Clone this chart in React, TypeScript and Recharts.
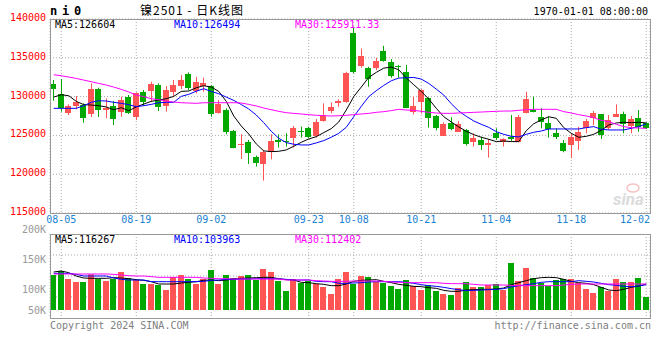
import React from 'react';
import { ComposedChart, Bar, Line, XAxis, YAxis, CartesianGrid } from 'recharts';

// 80 trading days, ni0 daily
const DATES = [
  '08-02', '08-05', '08-06', '08-07', '08-08', '08-09', '08-12', '08-13', '08-14', '08-15', '08-16',
  '08-19', '08-20', '08-21', '08-22', '08-23', '08-26', '08-27', '08-28', '08-29', '08-30',
  '09-02', '09-03', '09-04', '09-05', '09-06', '09-09', '09-10', '09-11', '09-12', '09-13',
  '09-18', '09-19', '09-20', '09-23', '09-24', '09-25', '09-26', '09-27', '09-30',
  '10-08', '10-09', '10-10', '10-11', '10-14', '10-15', '10-16', '10-17', '10-18',
  '10-21', '10-22', '10-23', '10-24', '10-25', '10-28', '10-29', '10-30', '10-31', '11-01',
  '11-04', '11-05', '11-06', '11-07', '11-08', '11-11', '11-12', '11-13', '11-14', '11-15',
  '11-18', '11-19', '11-20', '11-21', '11-22', '11-25', '11-26', '11-27', '11-28', '11-29',
  '12-02',
];

const OPEN = [
  131620, 130290, 127930, 128790, 128910, 127760, 130970, 128310, 128830, 128060,
  129990, 127410, 130540, 130720, 131490, 128830, 130540, 131360, 132860, 130720,
  131400, 131360, 127930, 128270, 125570, 123770, 124200, 122230, 121330, 122910,
  124410, 124280, 124630, 125610, 125910, 124970, 126860, 128140, 129130, 129260,
  138260, 133970, 133720, 133720, 135860, 134490, 133970, 133200, 128060, 129260,
  129770, 127500, 124970, 126640, 125480, 125700, 124200, 124410, 123730, 125360,
  124110, 124840, 124200, 127930, 128270, 127410, 126640, 125310, 123980, 123770,
  124280, 125910, 127290, 127760, 125910, 127410, 127760, 126210, 127200, 126560,
];
const HIGH = [
  132130, 132260, 129000, 130070, 129130, 131700, 131140, 129770, 129430, 129990,
  130200, 130540, 130840, 131920, 131700, 131360, 132130, 132770, 133120, 132560,
  132430, 131490, 129560, 128490, 125700, 125140, 124410, 122400, 123130, 125140,
  125140, 125270, 126210, 126130, 126130, 127110, 129130, 129260, 129640, 133200,
  138990, 136200, 133840, 135000, 136545, 134830, 134060, 134060, 129990, 130970,
  129900, 127630, 126690, 127330, 126860, 125830, 125270, 124840, 124540, 125910,
  124630, 127630, 127630, 130630, 129990, 128490, 127410, 125910, 124410, 125270,
  126130, 127110, 128140, 127760, 127630, 129000, 128060, 127500, 128270, 126690,
];
const LOW = [
  129470, 128060, 127630, 128360, 126640, 127370, 127370, 127200, 126340, 127410,
  127760, 126990, 128830, 129340, 128140, 128060, 129990, 130970, 130840, 130420,
  130630, 127410, 127800, 125140, 123340, 121970, 121330, 120980, 119180, 121930,
  123430, 123560, 123430, 124710, 124630, 124710, 126770, 127840, 128700, 129210,
  132990, 133720, 131270, 133420, 134490, 132430, 132430, 128490, 127710, 127800,
  126000, 125660, 124970, 125660, 125480, 123680, 123560, 123130, 122140, 124410,
  123560, 124280, 124110, 127840, 127970, 125910, 124710, 124540, 122830, 122060,
  123130, 125270, 126340, 124540, 125700, 127410, 125270, 125270, 125480, 125830,
];
const CLOSE = [
  131020, 128570, 128790, 129260, 127200, 130970, 128270, 128490, 127110, 129560,
  127930, 130420, 129260, 131620, 128700, 130840, 131490, 132130, 131140, 131920,
  131700, 127760, 129000, 125400, 123430, 123940, 122780, 121500, 122910, 124280,
  124110, 124160, 125910, 125400, 124840, 126690, 127630, 128660, 129470, 132990,
  133120, 135260, 132220, 134570, 134570, 132640, 133760, 128570, 128790, 130840,
  127290, 126000, 126470, 125830, 126470, 123860, 124710, 123770, 124070, 124710,
  124540, 124500, 127410, 129690, 128060, 126690, 125830, 124840, 123040, 124840,
  125480, 126860, 127930, 125060, 126990, 127710, 126470, 127110, 126130, 125910,
];
const VOLUME = [
  125000, 131670, 118330, 113330, 113330, 126110, 118330, 115000, 118330, 130000,
  120000, 116670, 110000, 110000, 108330, 100000, 121660, 125000, 118330, 110000,
  118330, 133330, 110000, 125000, 120000, 123330, 125000, 116670, 135000, 130000,
  115000, 98330, 118330, 111660, 115000, 110000, 105000, 93330, 118330, 130000,
  110000, 123330, 121660, 113330, 111660, 106660, 101660, 116670, 106660, 100000,
  108330, 98330, 93330, 91660, 103330, 113330, 105000, 105000, 108330, 110000,
  100000, 145000, 115000, 136670, 120000, 111660, 106660, 116670, 118330, 118330,
  111660, 101660, 95000, 105000, 98330, 118330, 113330, 113330, 120000, 88330,
];

const MA5 = [
  129940, 130240, 130110, 129390, 128960, 128910, 128830, 128660, 128310, 128570,
  128190, 128660, 129040, 129390, 129560, 129730, 130030, 130670, 130720, 131140,
  131400, 131230, 130670, 129390, 127500, 126210, 125180, 123900, 123000, 122910,
  122950, 123130, 123600, 124110, 124540, 124840, 125360, 125870, 126730, 128270,
  130000, 131230, 132470, 133120, 133670, 133800, 133460, 132390, 131530, 130670,
  129690, 128490, 127410, 126730, 126090, 125530, 125100, 124760, 124500, 124200,
  124280, 124200, 124200, 125600, 126500, 127000, 127400, 127200, 126000, 125270,
  124760, 124880, 125140, 125660, 126340, 126600, 126690, 126640, 126690, 126604,
];
const MA10 = [
  128490, 128490, 128490, 128490, 128830, 129260, 129470, 129430, 129260, 129130,
  128960, 128700, 128830, 129000, 129210, 129260, 129260, 130030, 130290, 130700,
  131015, 130670, 130370, 129940, 129510, 128980, 128400, 127630, 126640, 125530,
  124630, 124070, 123860, 123770, 123770, 124030, 124330, 124760, 125270, 126040,
  127410, 128740, 129990, 130760, 131440, 132040, 132390, 132430, 132470, 132260,
  131700, 130970, 130200, 129090, 128140, 127460, 126860, 126430, 126040, 125480,
  125140, 124880, 124800, 125140, 125400, 125570, 125830, 125830, 125830, 125830,
  125830, 126000, 126130, 125790, 125700, 125700, 125700, 125910, 126130, 126494,
];
const MA30 = [
  132820, 132690, 132520, 132340, 132130, 131920, 131700, 131490, 131230, 130930,
  130590, 130200, 129990, 129730, 129600, 129430, 129300, 129210, 129170, 129130,
  129210, 129210, 129210, 129210, 129210, 129170, 129000, 128790, 128530, 128310,
  128100, 127930, 127840, 127760, 127670, 127590, 127540, 127500, 127540, 127590,
  127670, 127760, 127840, 127970, 128060, 128190, 128360, 128270, 128230, 128100,
  127970, 127890, 127840, 127840, 127890, 127930, 127970, 128010, 128060, 128100,
  128140, 128140, 128230, 128310, 128360, 128360, 128360, 128360, 128060, 127890,
  127670, 127500, 127290, 126940, 126770, 126430, 126130, 126000, 125950, 125911,
];

const VMA5 = [
  129990, 131660, 128880, 123330, 120000, 119440, 119440, 119440, 120550, 120000,
  118880, 117220, 116100, 113880, 110000, 110000, 110000, 111660, 112770, 113880,
  116100, 116660, 115550, 116660, 118330, 119440, 120000, 120550, 121110, 121110,
  118880, 117220, 116660, 112770, 112220, 110550, 109440, 107220, 107220, 110000,
  114440, 116100, 116660, 117220, 114440, 112220, 109440, 107770, 106110, 105550,
  103880, 102770, 99440, 97770, 97770, 100000, 100550, 101110, 101110, 101660,
  103330, 108880, 112220, 115550, 118880, 120550, 121110, 120550, 117770, 114440,
  112220, 111110, 108880, 104440, 100000, 98880, 101110, 104440, 106660, 110000,
];
const VMA10 = [
  127770, 127770, 127770, 126110, 123330, 123330, 123330, 123330, 120000, 117770,
  116660, 116660, 116660, 113880, 113880, 113880, 113880, 113880, 113880, 113880,
  114440, 116100, 116660, 117770, 117770, 118330, 118330, 118880, 118880, 118880,
  118330, 117770, 116660, 116660, 116660, 114440, 113880, 113880, 111110, 111110,
  111660, 112220, 113330, 113880, 113880, 113880, 113880, 112770, 111110, 108880,
  107220, 106110, 104440, 102220, 100550, 98880, 99440, 100000, 100550, 101110,
  102220, 104990, 107220, 108880, 110550, 112770, 113880, 113880, 113880, 113880,
  115550, 114440, 113330, 111110, 108880, 107770, 106110, 105550, 106660, 108880,
];
const VMA30 = [
  126660, 126660, 126660, 126660, 126660, 126660, 126660, 126660, 126110, 124990,
  123880, 123330, 123330, 122220, 121110, 121110, 121110, 121110, 121110, 121110,
  120000, 119440, 118880, 118880, 118330, 118330, 118330, 118330, 118330, 118330,
  118330, 116660, 116660, 116660, 116660, 115550, 114990, 114440, 114440, 114440,
  114990, 114990, 114990, 114990, 114440, 113330, 112770, 112220, 112220, 112220,
  112220, 112220, 111110, 110550, 110550, 110550, 109440, 108330, 108330, 108330,
  108330, 107770, 107220, 107220, 107220, 107220, 107220, 107220, 108330, 109440,
  110000, 110000, 110000, 110000, 110000, 110000, 110000, 110000, 110000, 110000,
];

const LABEL_DATES = ['08-05', '08-19', '09-02', '09-23', '10-08', '10-21', '11-04', '11-18', '12-02'];
const PRICE_TICKS = [140000, 135000, 130000, 125000, 120000, 115000];
const VOL_TICKS = [200000, 150000, 100000, 50000];
const VOL_DOMAIN = [53333, 193333];
const VOL_BASE = 66667;

const UP = '#ff5454';
const DOWN = '#00a800';
const GRID = '#aaaaaa';
const FRAME = '#999999';
const MONO = '"DejaVu Sans Mono", "Liberation Mono", monospace';

const W = 660;
const AXIS_W = 50;
const PM = { top: 19, right: 10, bottom: 0, left: 0 };
const P_H = 230;
const X_AXIS_H = 17;
const V_TOP = 214;
const VM = { top: 20, right: 10, bottom: 6, left: 0 };
const V_H = 110;
const PLOT_RIGHT = W - PM.right;
const V_PLOT_H = V_H - VM.top - VM.bottom;

const rows = DATES.map((date, i) => ({
  date,
  open: OPEN[i],
  high: HIGH[i],
  low: LOW[i],
  close: CLOSE[i],
  vol: VOLUME[i],
  ma5: MA5[i],
  ma10: MA10[i],
  ma30: MA30[i],
  vma5: VMA5[i],
  vma10: VMA10[i],
  vma30: VMA30[i],
}));

const colorOf = (r: any) => (r.close >= r.open ? UP : DOWN);

function Candle(props: any) {
  const { x, y, width, height, payload } = props;
  if (x == null || y == null) return null;
  const { open, close, high, low } = payload;
  const span = high - low || 1;
  const yOf = (v: number) => y + ((high - v) / span) * height;
  const c = Math.floor(x + width / 2);
  const top = Math.round(yOf(Math.max(open, close)));
  const bot = Math.round(yOf(Math.min(open, close)));
  const color = colorOf(payload);
  return (
    <g>
      <line x1={c + 0.5} x2={c + 0.5} y1={y} y2={y + height} stroke={color} strokeWidth={1} />
      <rect x={c - 3} y={top} width={6} height={Math.max(1, bot - top)} fill={color} />
    </g>
  );
}

function VolBar(props: any) {
  const { x, y, width, height, payload } = props;
  if (x == null || y == null) return null;
  const c = Math.floor(x + width / 2);
  return <rect x={c - 3} y={y} width={6} height={height} fill={colorOf(payload)} />;
}

function DateTick(props: any) {
  const { x, y, payload } = props;
  const nearEnd = x + 15 > PLOT_RIGHT;
  return (
    <text
      x={nearEnd ? PLOT_RIGHT : x}
      y={y}
      dy={10}
      textAnchor={nearEnd ? 'end' : 'middle'}
      fill="#1a82d2"
      fontSize={10}
      fontFamily={MONO}
    >
      {payload.value}
    </text>
  );
}

function PriceTick(props: any) {
  const { x, y, payload } = props;
  return (
    <text x={x} y={y} dy={2} textAnchor="end" fill="#ff0000" fontSize={10} fontFamily={MONO}>
      {payload.value}
    </text>
  );
}

function VolTick(props: any) {
  const { x, y, payload } = props;
  const bottom = VM.top + V_PLOT_H - 8;
  return (
    <text x={x} y={Math.min(y, bottom)} dy={3.5} textAnchor="end" fill="#999999" fontSize={10} fontFamily={MONO}>
      {payload.value / 1000}K
    </text>
  );
}

function Overlay() {
  const vTop = V_TOP + VM.top;
  return (
    <svg width={W} height={360} style={{ position: 'absolute', left: 0, top: 0, pointerEvents: 'none' }}>
      <rect x={AXIS_W + 0.5} y={PM.top + 0.5} width={PLOT_RIGHT - AXIS_W} height={P_H - PM.top - X_AXIS_H} fill="none" stroke={FRAME} />
      <rect x={AXIS_W + 0.5} y={vTop + 0.5} width={PLOT_RIGHT - AXIS_W} height={V_PLOT_H} fill="none" stroke={FRAME} />

      <text x={50} y={15} fontSize={12} fontWeight="bold" letterSpacing={4.8} fontFamily={MONO} fill="#000">ni0</text>
      <text x={140} y={14.5} fontSize={12} fontFamily='"Noto Sans CJK SC", sans-serif' fill="#000" letterSpacing={1}>镍2501 - 日K线图</text>
      <text x={648} y={15} fontSize={10} textAnchor="end" fontFamily={MONO} fill="#000">1970-01-01 08:00:00</text>

      <text x={55} y={28} fontSize={10} fontFamily={MONO} fill="#000">MA5:126604</text>
      <text x={174} y={28} fontSize={10} fontFamily={MONO} fill="#0000ff">MA10:126494</text>
      <text x={295} y={28} fontSize={10} fontFamily={MONO} fill="#ff00ff">MA30:125911.33</text>

      <text x={55} y={243} fontSize={10} fontFamily={MONO} fill="#000">MA5:116267</text>
      <text x={174} y={243} fontSize={10} fontFamily={MONO} fill="#0000ff">MA10:103963</text>
      <text x={295} y={243} fontSize={10} fontFamily={MONO} fill="#ff00ff">MA30:112402</text>

      <text x={613} y={205} fontSize={17} fontStyle="italic" fontWeight="bold" fontFamily="Roboto, sans-serif" fill="#dcdcdc">sina</text>
      <ellipse cx={633} cy={188} rx={6} ry={4} fill="none" stroke="#f3c4c4" strokeWidth={1.5} />

      <text x={50} y={329} fontSize={10} fontFamily={MONO} fill="#808080">Copyright 2024 SINA.COM</text>
      <text x={651} y={329} fontSize={10} textAnchor="end" fontFamily={MONO} fill="#808080">http://finance.sina.com.cn</text>
    </svg>
  );
}

export default function App() {
  const vGrid = [1, 2, 3].map((k) => VM.top + (V_PLOT_H * k) / 4);
  return (
    <div style={{ position: 'absolute', left: 0, top: 0, width: W, height: 360, background: '#fff', overflow: 'hidden' }}>
      <div style={{ position: 'absolute', left: 0, top: 0 }}>
        <ComposedChart width={W} height={P_H} data={rows} margin={PM}>
          <CartesianGrid stroke={GRID} strokeDasharray="1 2" />
          <XAxis
            dataKey="date"
            ticks={LABEL_DATES}
            interval={0}
            height={X_AXIS_H}
            tickLine={false}
            axisLine={false}
            tickSize={0}
            tickMargin={0}
            tick={<DateTick />}
          />
          <YAxis
            domain={[115000, 140000]}
            ticks={PRICE_TICKS}
            interval={0}
            width={AXIS_W}
            allowDataOverflow
            tickLine={false}
            axisLine={false}
            tickSize={0}
            tickMargin={4}
            tick={<PriceTick />}
          />
          <Bar dataKey={(r: any) => [r.low, r.high]} shape={(p: any) => <Candle {...p} />} isAnimationActive={false} />
          <Line dataKey="ma5" stroke="#000000" strokeWidth={1} dot={false} isAnimationActive={false} />
          <Line dataKey="ma10" stroke="#0000ff" strokeWidth={1} dot={false} isAnimationActive={false} />
          <Line dataKey="ma30" stroke="#ff00ff" strokeWidth={1} dot={false} isAnimationActive={false} />
        </ComposedChart>
      </div>
      <div style={{ position: 'absolute', left: 0, top: V_TOP }}>
        <ComposedChart width={W} height={V_H} data={rows} margin={VM}>
          <CartesianGrid stroke={GRID} strokeDasharray="1 2" horizontalPoints={vGrid} />
          <XAxis dataKey="date" ticks={LABEL_DATES} interval={0} hide />
          <YAxis
            domain={VOL_DOMAIN}
            ticks={VOL_TICKS}
            interval={0}
            width={AXIS_W}
            allowDataOverflow
            tickLine={false}
            axisLine={false}
            tickSize={0}
            tickMargin={4}
            tick={<VolTick />}
          />
          <Bar dataKey={(r: any) => [VOL_BASE, r.vol]} shape={(p: any) => <VolBar {...p} />} isAnimationActive={false} />
          <Line dataKey="vma5" stroke="#000000" strokeWidth={1} dot={false} isAnimationActive={false} />
          <Line dataKey="vma10" stroke="#0000ff" strokeWidth={1} dot={false} isAnimationActive={false} />
          <Line dataKey="vma30" stroke="#ff00ff" strokeWidth={1} dot={false} isAnimationActive={false} />
        </ComposedChart>
      </div>
      <Overlay />
    </div>
  );
}
